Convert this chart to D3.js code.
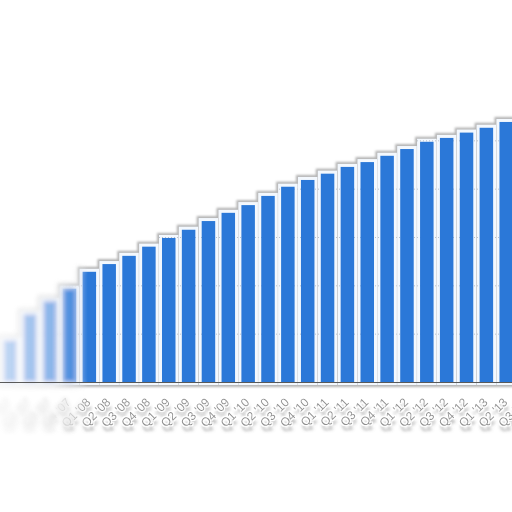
<!DOCTYPE html>
<html lang="en">
<head>
  <meta charset="UTF-8" />
  <title>Quarterly bars</title>
  <script src="https://d3js.org/d3.v7.min.js"></script>
  <style>
    html, body { margin: 0; padding: 0; background: #ffffff; }
    #chart { width: 512px; height: 512px; }
    .tick-label { font-family: "Liberation Sans", Arial, sans-serif; font-size: 12px; fill: #8f8f8f; }
  </style>
</head>
<body>
  <div id="chart"></div>
  <script>
    // Data
    const quarters = ["Q1 '07", "Q2 '07", "Q3 '07", "Q4 '07",
      "Q1 '08", "Q2 '08", "Q3 '08", "Q4 '08",
      "Q1 '09", "Q2 '09", "Q3 '09", "Q4 '09",
      "Q1 '10", "Q2 '10", "Q3 '10", "Q4 '10",
      "Q1 '11", "Q2 '11", "Q3 '11", "Q4 '11",
      "Q1 '12", "Q2 '12", "Q3 '12", "Q4 '12",
      "Q1 '13", "Q2 '13", "Q3 '13"];
    const values = [8.7, 14.1, 16.8, 19.3,
      22.8, 24.4, 26.1, 28.0,
      29.8, 31.5, 33.3, 35.0,
      36.6, 38.5, 40.4, 41.8,
      43.1, 44.5, 45.5, 46.8,
      48.2, 49.7, 50.5, 51.6,
      52.6, 53.8, 55.0];
    const gridTicks = [10, 20, 30, 40, 50];

    const width = 512, height = 512;
    const baseY = 382;

    const svg = d3.select("#chart").append("svg")
      .attr("width", width)
      .attr("height", height);

    const defs = svg.append("defs");

    // Scales
    const x = d3.scaleBand()
      .domain(quarters)
      .range([0, 536])
      .paddingInner(0.32)
      .paddingOuter(0.16);

    const y = d3.scaleLinear()
      .domain([0, 60])
      .range([baseY, baseY - 290]);

    // white halo + thin grey contour round the bar silhouette
    const fx = defs.append("filter").attr("id", "barFx")
      .attr("x", "-10%").attr("y", "-10%").attr("width", "120%").attr("height", "120%");
    fx.append("feMorphology").attr("in", "SourceAlpha").attr("operator", "dilate").attr("radius", 4.6).attr("result", "wide");
    fx.append("feGaussianBlur").attr("in", "wide").attr("stdDeviation", 0.8).attr("result", "wideBlur");
    fx.append("feFlood").attr("flood-color", "#b4b4b4").attr("result", "grey");
    fx.append("feComposite").attr("in", "grey").attr("in2", "wideBlur").attr("operator", "in").attr("result", "shadow");
    fx.append("feMorphology").attr("in", "SourceAlpha").attr("operator", "dilate").attr("radius", 3.4).attr("result", "mid");
    fx.append("feFlood").attr("flood-color", "#f3f8fe").attr("result", "pale");
    fx.append("feComposite").attr("in", "pale").attr("in2", "mid").attr("operator", "in").attr("result", "halo");
    const fm = fx.append("feMerge");
    fm.append("feMergeNode").attr("in", "shadow");
    fm.append("feMergeNode").attr("in", "halo");

    // used to keep the grid only inside the bar silhouette
    defs.append("filter").attr("id", "fatFx")
      .attr("x", "-10%").attr("y", "-10%").attr("width", "120%").attr("height", "120%")
      .append("feMorphology").attr("operator", "dilate").attr("radius", 3.4);

    // soft grey shadow under the axis labels
    const lf = defs.append("filter").attr("id", "labelFx")
      .attr("x", "-20%").attr("y", "-20%").attr("width", "140%").attr("height", "160%");
    lf.append("feGaussianBlur").attr("in", "SourceAlpha").attr("stdDeviation", 1.8).attr("result", "b");
    lf.append("feOffset").attr("in", "b").attr("dx", 1).attr("dy", 5).attr("result", "bo");
    lf.append("feFlood").attr("flood-color", "#6f6f6f").attr("flood-opacity", 0.75).attr("result", "g");
    lf.append("feComposite").attr("in", "g").attr("in2", "bo").attr("operator", "in").attr("result", "sh");
    lf.append("feMorphology").attr("in", "SourceAlpha").attr("operator", "dilate").attr("radius", 1.3).attr("result", "d");
    lf.append("feFlood").attr("flood-color", "#ffffff").attr("result", "w");
    lf.append("feComposite").attr("in", "w").attr("in2", "d").attr("operator", "in").attr("result", "wh");
    const lm = lf.append("feMerge");
    lm.append("feMergeNode").attr("in", "sh");
    lm.append("feMergeNode").attr("in", "wh");
    lm.append("feMergeNode").attr("in", "SourceGraphic");

    defs.append("filter").attr("id", "blurFx")
      .append("feGaussianBlur").attr("stdDeviation", 2.2);

    // left edge fades out
    const g1 = defs.append("linearGradient").attr("id", "sharpGrad")
      .attr("gradientUnits", "userSpaceOnUse").attr("x1", 0).attr("x2", 88).attr("y1", 0).attr("y2", 0);
    g1.append("stop").attr("offset", 0).attr("stop-color", "#000");
    g1.append("stop").attr("offset", 0.6).attr("stop-color", "#000");
    g1.append("stop").attr("offset", 1).attr("stop-color", "#fff");
    defs.append("mask").attr("id", "sharpMask").attr("maskUnits", "userSpaceOnUse")
      .attr("x", 0).attr("y", 0).attr("width", width).attr("height", height)
      .append("rect").attr("width", width).attr("height", height).attr("fill", "url(#sharpGrad)");

    const g2 = defs.append("linearGradient").attr("id", "softGrad")
      .attr("gradientUnits", "userSpaceOnUse").attr("x1", 0).attr("x2", 88).attr("y1", 0).attr("y2", 0);
    g2.append("stop").attr("offset", 0).attr("stop-color", "#666");
    g2.append("stop").attr("offset", 0.8).attr("stop-color", "#fff");
    g2.append("stop").attr("offset", 1).attr("stop-color", "#000");
    defs.append("mask").attr("id", "softMask").attr("maskUnits", "userSpaceOnUse")
      .attr("x", 0).attr("y", 0).attr("width", width).attr("height", height)
      .append("rect").attr("width", width).attr("height", height).attr("fill", "url(#softGrad)");

    const barX = (d, i) => x(quarters[i]);
    const barY = d => y(d);
    const barH = d => y(0) - y(d);

    // mask: grid shows only where the bar halo is
    defs.append("mask").attr("id", "gridMask").attr("maskUnits", "userSpaceOnUse")
      .attr("x", 0).attr("y", 0).attr("width", width).attr("height", height)
      .append("g").attr("filter", "url(#fatFx)")
      .selectAll("rect")
      .data(values)
      .join("rect")
      .attr("x", barX).attr("y", barY)
      .attr("width", x.bandwidth()).attr("height", barH)
      .attr("fill", "#fff");

    const plot = defs.append("g").attr("id", "plot");

    // halo and contour behind bars
    plot.append("g")
      .attr("filter", "url(#barFx)")
      .selectAll("rect")
      .data(values)
      .join("rect")
      .attr("x", barX).attr("y", barY)
      .attr("width", x.bandwidth()).attr("height", barH)
      .attr("fill", "#000");

    // dotted grid lines
    plot.append("g")
      .attr("mask", "url(#gridMask)")
      .selectAll("line")
      .data(gridTicks)
      .join("line")
      .attr("x1", 0).attr("x2", width)
      .attr("y1", d => y(d) + 0.5).attr("y2", d => y(d) + 0.5)
      .attr("stroke", "#b9c1cc")
      .attr("stroke-dasharray", "1,2");

    // bars
    plot.append("g")
      .selectAll("rect")
      .data(values)
      .join("rect")
      .attr("x", barX).attr("y", barY)
      .attr("width", x.bandwidth()).attr("height", barH)
      .attr("fill", "#2b78d8");

    // rotated category labels
    plot.append("g")
      .attr("filter", "url(#labelFx)")
      .selectAll("text")
      .data(quarters)
      .join("text")
      .attr("class", "tick-label")
      .attr("text-anchor", "end")
      .attr("transform", d => `translate(${x(d) + x.bandwidth() / 2 + 2}, ${baseY + 21}) rotate(-45)`)
      .text(d => d);

    svg.append("use").attr("href", "#plot").attr("mask", "url(#sharpMask)");
    svg.append("use").attr("href", "#plot")
      .attr("filter", "url(#blurFx)")
      .attr("mask", "url(#softMask)")
      .attr("opacity", 0.65);

    // base line
    svg.append("line")
      .attr("x1", 0).attr("x2", width)
      .attr("y1", baseY + 0.5).attr("y2", baseY + 0.5)
      .attr("stroke", "#5a5a5a")
      .attr("stroke-width", 1);
  </script>
</body>
</html>
